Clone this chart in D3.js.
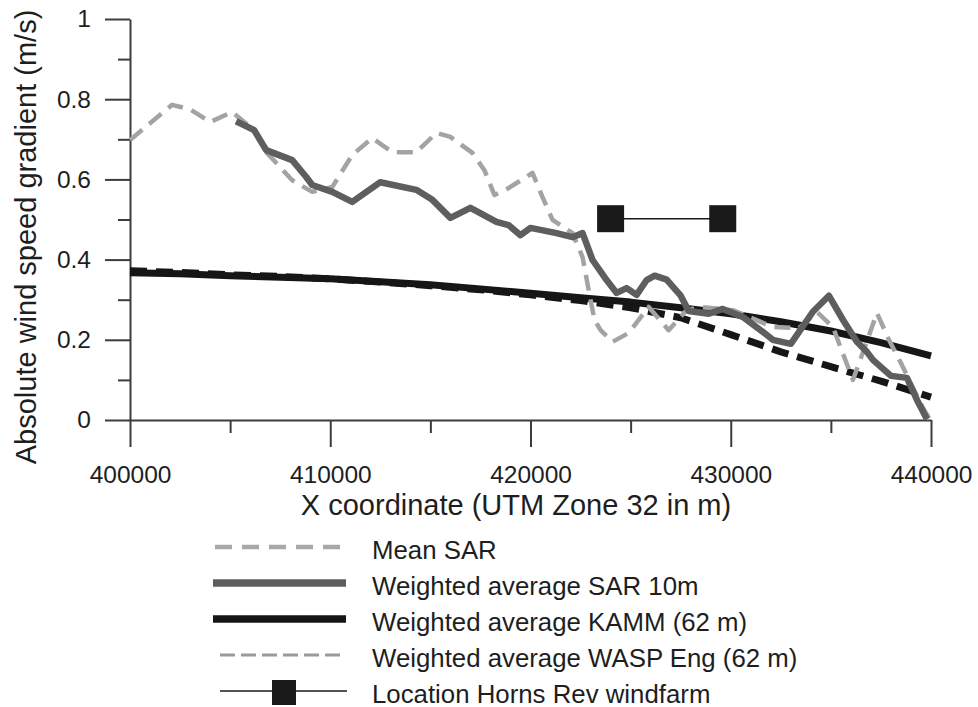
<!DOCTYPE html>
<html>
<head>
<meta charset="utf-8">
<script src="https://cdn.jsdelivr.net/npm/d3@7"></script>
<style>
  html, body { margin: 0; padding: 0; background: #fff; }
  svg { display: block; font-family: "Liberation Sans", Arial, sans-serif; }
</style>
</head>
<body>
<svg id="chart" width="978" height="707"></svg>
<script>
// ---- Data ----
const xTicks = [400000, 410000, 420000, 430000, 440000];
const xMinorTicks = [405000, 415000, 425000, 435000];
const yTicks = [0, 0.2, 0.4, 0.6, 0.8, 1];
const yMinorTicks = [0.1, 0.3, 0.5, 0.7, 0.9];

const meanSAR = [
  [400000,0.698],[402100,0.786],[403000,0.775],[404000,0.743],[405100,0.768],
  [406200,0.723],[406800,0.668],[408100,0.598],[409100,0.569],[410100,0.581],
  [411100,0.661],[412100,0.703],[413100,0.668],[414300,0.668],[415300,0.716],
  [416000,0.706],[417100,0.666],[417700,0.623],[418200,0.561],[418900,0.578],
  [420100,0.616],[420600,0.556],[421100,0.499],[422100,0.466],[422600,0.406],
  [423000,0.299],[423200,0.249],[423500,0.224],[424100,0.195],[424900,0.217],
  [425900,0.282],[426900,0.224],[427800,0.274],[428500,0.282],[430100,0.274],
  [431000,0.255],[432100,0.232],[433400,0.229],[434300,0.270],[435100,0.232],
  [436100,0.100],[436700,0.182],[437300,0.267],[437900,0.200],[438500,0.142],
  [439000,0.090],[439600,0.030],[439900,0.005]
];

const sar10 = [
  [405300,0.745],[406200,0.723],[406800,0.673],[408100,0.648],[408800,0.606],
  [409100,0.586],[410100,0.569],[411100,0.544],[412500,0.593],[414300,0.574],
  [415100,0.549],[416000,0.504],[417000,0.529],[418300,0.494],[418900,0.486],
  [419500,0.461],[420000,0.479],[421300,0.466],[422100,0.456],[422600,0.466],
  [423100,0.399],[423800,0.349],[424300,0.317],[424800,0.329],[425300,0.312],
  [425800,0.349],[426200,0.360],[426800,0.350],[427500,0.310],[427900,0.272],
  [428900,0.265],[429600,0.277],[430600,0.257],[431600,0.220],[432100,0.200],
  [433000,0.190],[434100,0.270],[434900,0.310],[435600,0.250],[436300,0.195],
  [436800,0.170],[437100,0.150],[438000,0.110],[438800,0.105],[439300,0.050],
  [439800,0.002]
];

const kamm = [
  [400000,0.367],[402500,0.365],[405000,0.360],[407500,0.356],[410000,0.352],
  [412500,0.345],[415000,0.337],[417500,0.327],[420000,0.316],[422500,0.305],
  [425000,0.294],[427500,0.280],[430000,0.265],[432500,0.245],[435000,0.222],
  [437500,0.193],[440000,0.160]
];

const wasp = [
  [400000,0.372],[402500,0.368],[405000,0.362],[407500,0.358],[410000,0.352],
  [412500,0.344],[415000,0.335],[417500,0.325],[420000,0.312],[422500,0.298],
  [425000,0.280],[427500,0.255],[430000,0.213],[432500,0.170],[435000,0.133],
  [437500,0.097],[440000,0.057]
];

const hornsRev = [[424000,0.502],[429600,0.502]];

const legendLabels = [
  "Mean SAR",
  "Weighted average SAR 10m",
  "Weighted average KAMM (62 m)",
  "Weighted average WASP Eng (62 m)",
  "Location Horns Rev windfarm"
];

// ---- Chart ----
const svg = d3.select("#chart");
const x = d3.scaleLinear().domain([400000, 440000]).range([130, 931]);
const y = d3.scaleLinear().domain([0, 1]).range([420, 19]);

const axisColor = "#3c3c3c";
const textColor = "#1e1e1e";

// Y axis major
svg.append("g").attr("transform", `translate(${x(400000)},0)`)
  .call(d3.axisLeft(y).tickValues(yTicks).tickSize(25).tickSizeOuter(0).tickPadding(14)
    .tickFormat(d => d3.format("~g")(d)));
// Y axis minor
svg.append("g").attr("transform", `translate(${x(400000)},0)`)
  .call(d3.axisLeft(y).tickValues(yMinorTicks).tickSize(12).tickSizeOuter(0).tickFormat(""))
  .call(g => g.select(".domain").remove());

// X axis major
svg.append("g").attr("transform", `translate(0,${y(0)})`)
  .call(d3.axisBottom(x).tickValues(xTicks).tickSize(27).tickSizeOuter(0).tickPadding(19)
    .tickFormat(d3.format("d")));
svg.append("g").attr("transform", `translate(0,${y(0)})`)
  .call(d3.axisBottom(x).tickValues(xMinorTicks).tickSize(13).tickSizeOuter(0).tickFormat(""))
  .call(g => g.select(".domain").remove());

svg.selectAll(".domain, .tick line").attr("stroke", axisColor).attr("stroke-width", 2);
svg.selectAll(".tick text").attr("fill", textColor)
  .style("font-size", "24.5px").style("font-family", "'Liberation Sans', Arial, sans-serif");

// Axis titles
svg.append("text")
  .attr("x", 516).attr("y", 515)
  .attr("text-anchor", "middle")
  .attr("fill", textColor)
  .style("font-size", "29px")
  .text("X coordinate (UTM Zone 32 in m)");

svg.append("text")
  .attr("transform", "translate(36,237) rotate(-90)")
  .attr("text-anchor", "middle")
  .attr("fill", textColor)
  .style("font-size", "29px")
  .text("Absolute wind speed gradient (m/s)");

// Lines
const line = d3.line().x(d => x(d[0])).y(d => y(d[1]));

const styles = {
  meanSAR: { stroke: "#a3a3a3", width: 4.5, dash: "16,9" },
  sar10:   { stroke: "#5e5e5e", width: 6.5, dash: null },
  kamm:    { stroke: "#161616", width: 7,   dash: null },
  wasp:    { stroke: "#161616", width: 7,   dash: "17,9" }
};

function drawSeries(data, st) {
  const p = svg.append("path").datum(data)
    .attr("fill", "none")
    .attr("stroke", st.stroke)
    .attr("stroke-width", st.width)
    .attr("stroke-linejoin", "round")
    .attr("d", line);
  if (st.dash) p.attr("stroke-dasharray", st.dash);
}
drawSeries(kamm, styles.kamm);
drawSeries(wasp, styles.wasp);
drawSeries(meanSAR, styles.meanSAR);
drawSeries(sar10, styles.sar10);

// Horns Rev windfarm
svg.append("path").datum(hornsRev)
  .attr("fill", "none").attr("stroke", "#1a1a1a").attr("stroke-width", 1.5)
  .attr("d", line);
const sq = 27;
svg.selectAll("rect.hr").data(hornsRev).enter().append("rect")
  .attr("class", "hr")
  .attr("x", d => x(d[0]) - sq / 2).attr("y", d => y(d[1]) - sq / 2)
  .attr("width", sq).attr("height", sq)
  .attr("fill", "#1a1a1a");

// Legend
const legTextX = 372, legY0 = 547, legDy = 36;
const legStyles = [
  { stroke: "#a8a8a8", width: 4.5, dash: "17,10", x0: 215, x1: 342 },
  { stroke: "#5e5e5e", width: 7.5, dash: null, x0: 213, x1: 346 },
  { stroke: "#161616", width: 7.5, dash: null, x0: 213, x1: 346 },
  { stroke: "#9a9a9a", width: 3, dash: "15,6", x0: 220, x1: 342 },
  { stroke: "#1a1a1a", width: 1.5, dash: null, x0: 220, x1: 347 }
];
const leg = svg.append("g");
legendLabels.forEach((lab, i) => {
  const ly = legY0 + i * legDy;
  const st = legStyles[i];
  const l = leg.append("line")
    .attr("x1", st.x0).attr("x2", st.x1).attr("y1", ly).attr("y2", ly)
    .attr("stroke", st.stroke).attr("stroke-width", st.width);
  if (st.dash) l.attr("stroke-dasharray", st.dash);
  if (i === 4) {
    leg.append("rect").attr("x", 284 - 12).attr("y", ly - 11)
      .attr("width", 24).attr("height", 25).attr("fill", "#1a1a1a");
  }
  leg.append("text")
    .attr("x", legTextX).attr("y", ly + 12)
    .attr("fill", textColor)
    .style("font-size", "25.8px")
    .text(lab);
});
</script>
</body>
</html>
